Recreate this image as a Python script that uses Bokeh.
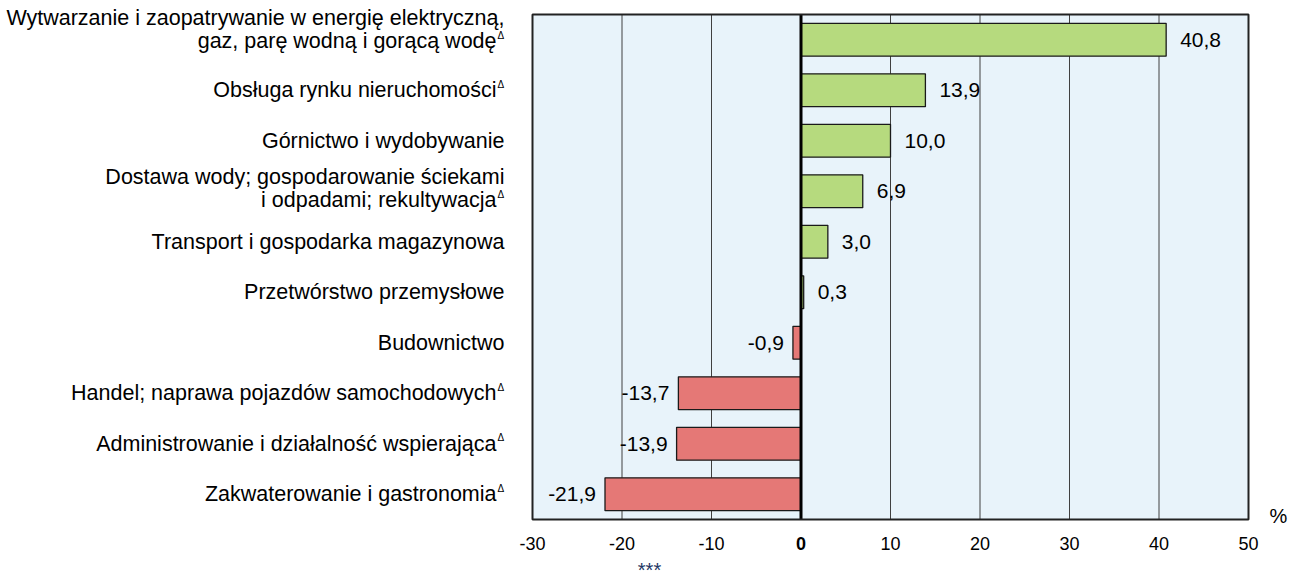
from bokeh.plotting import figure
from bokeh.models import Range1d, ColumnDataSource
from bokeh.core.properties import value
from bokeh.embed import file_html
from bokeh.resources import INLINE

# ---- data ----
categories = [
    ["Wytwarzanie i zaopatrywanie w energię elektryczną,", "gaz, parę wodną i gorącą wodę"],
    ["Obsługa rynku nieruchomości"],
    ["Górnictwo i wydobywanie"],
    ["Dostawa wody; gospodarowanie ściekami", "i odpadami; rekultywacja"],
    ["Transport i gospodarka magazynowa"],
    ["Przetwórstwo przemysłowe"],
    ["Budownictwo"],
    ["Handel; naprawa pojazdów samochodowych"],
    ["Administrowanie i działalność wspierająca"],
    ["Zakwaterowanie i gastronomia"],
]
has_delta = [True, True, False, True, False, False, False, True, True, True]
values = [40.8, 13.9, 10.0, 6.9, 3.0, 0.3, -0.9, -13.7, -13.9, -21.9]
x_ticks = [-30, -20, -10, 0, 10, 20, 30, 40, 50]
unit_label = "%"
footer = "***"

# ---- style / layout ----
FONT = "Liberation Sans"
GREEN = "#B6DA7E"
RED = "#E57876"
BG = "#E8F3FA"
W, H = 1290, 586
PL, PR, PT, PB = 532, 1248, 14, 519   # plot-area edges in pixels

n = len(values)
xs = (PR - PL) / (x_ticks[-1] - x_ticks[0])
x_start = x_ticks[0] - PL / xs
x_end = x_ticks[-1] + (W - PR) / xs
ys = (PB - PT) / n
y_top = -0.5 - PT / ys
y_bot = n - 0.5 + (H - PB) / ys


def dy(py):
    return y_top + py / ys


p = figure(width=W, height=H, output_backend="svg", toolbar_location=None,
           x_range=Range1d(x_start, x_end), y_range=Range1d(y_bot, y_top),
           min_border=0)
p.axis.visible = False
p.grid.visible = False
p.outline_line_color = None
p.background_fill_color = "white"
p.border_fill_color = "white"

lo, hi = x_ticks[0], x_ticks[-1]
# plot area background
p.quad(left=[lo], right=[hi], top=[-0.5], bottom=[n - 0.5], fill_color=BG, line_color=None)
# vertical gridlines
gx = [t for t in x_ticks if t not in (lo, hi, 0)]
p.segment(x0=gx, y0=[-0.5] * len(gx), x1=gx, y1=[n - 0.5] * len(gx),
          line_color="#404040", line_width=1)

idx = list(range(n))
colors = [GREEN if v >= 0 else RED for v in values]
labels = [f"{v:.1f}".replace(".", ",") for v in values]
src = ColumnDataSource(dict(y=idx, v=values, c=colors, t=labels))
p.hbar(y="y", left=0, right="v", height=0.65, fill_color="c", line_color="#1a1a1a",
       line_width=1.3, source=src)

# zero line
p.segment(x0=[0], y0=[-0.5], x1=[0], y1=[n - 0.5], line_color="black", line_width=3)
# frame outline
p.quad(left=[lo], right=[hi], top=[-0.5], bottom=[n - 0.5], fill_color=None,
       line_color="#222222", line_width=2)

# value labels
pos = [i for i in idx if values[i] >= 0]
neg = [i for i in idx if values[i] < 0]
p.text(x=[values[i] for i in pos], y=pos, text=[labels[i] for i in pos], x_offset=14,
       text_align="left", text_baseline="middle", text_font=value(FONT),
       text_font_size="21px", text_color="black")
p.text(x=[values[i] for i in neg], y=neg, text=[labels[i] for i in neg], x_offset=-9,
       text_align="right", text_baseline="middle", text_font=value(FONT),
       text_font_size="21px", text_color="black")

# x tick labels
ty = dy(543)
other = [t for t in x_ticks if t != 0]
p.text(x=other, y=[ty] * len(other), text=[str(t) for t in other], text_align="center",
       text_baseline="middle", text_font=value(FONT), text_font_size="18px", text_color="black")
p.text(x=[0], y=[ty], text=["0"], text_align="center", text_baseline="middle",
       text_font=value(FONT), text_font_size="18px", text_font_style="bold", text_color="black")

# unit and footer
p.text(x=[hi], y=[dy(515)], text=[unit_label], x_offset=21, text_align="left",
       text_baseline="middle", text_font=value(FONT), text_font_size="20px", text_color="black")
p.text(x=[lo], y=[dy(558)], text=[footer], x_offset=117, text_align="center",
       text_baseline="top", text_font=value(FONT), text_font_size="20px", text_color="#1F3864")

# category labels
shift = {0: -0.2, 3: -0.05}
for i, lines in enumerate(categories):
    k = len(lines)
    center = i + shift.get(i, 0.0)
    for j, line in enumerate(lines):
        yy = center + (j - (k - 1) / 2) * 0.455
        d = has_delta[i] and j == k - 1
        p.text(x=[lo], y=[yy], text=[line], x_offset=(-36 if d else -28),
               text_align="right", text_baseline="middle", text_font=value(FONT),
               text_font_size="21.5px", text_color="black")
        if d:
            p.text(x=[lo], y=[yy - 0.12], text=["Δ"], x_offset=-35, text_align="left",
                   text_baseline="middle", text_font=value(FONT), text_font_size="10px",
                   text_color="black")

open("out.html", "w").write(file_html(p, INLINE))
